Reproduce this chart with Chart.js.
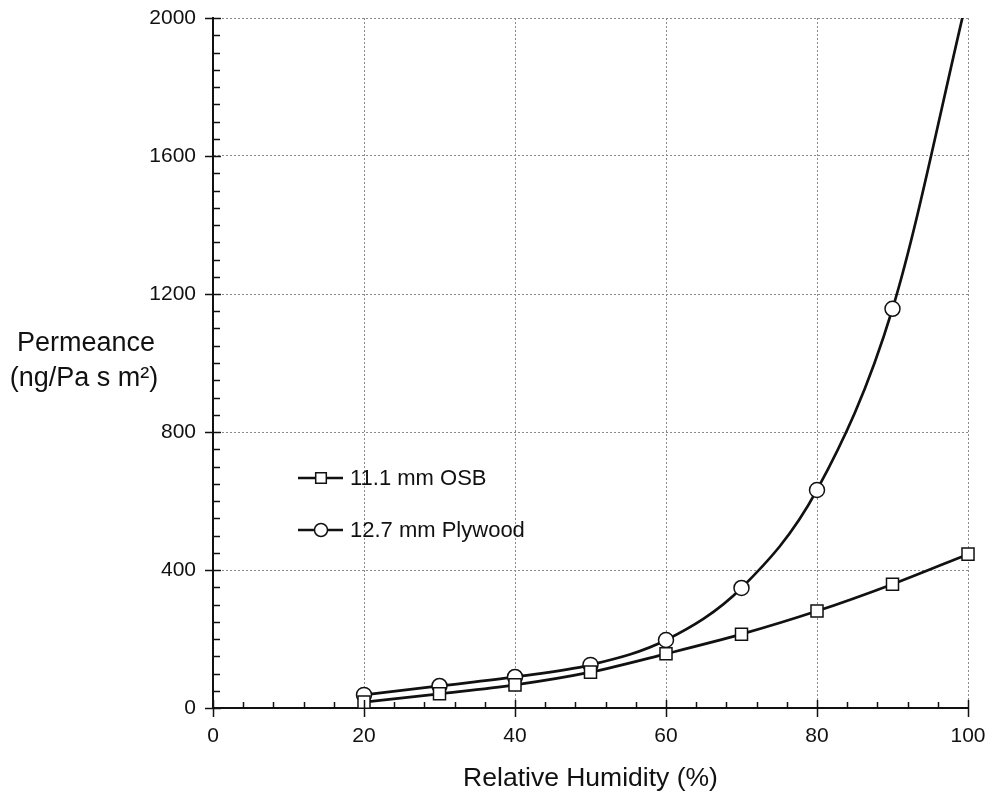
<!DOCTYPE html>
<html>
<head>
<meta charset="utf-8">
<title>Permeance vs Relative Humidity</title>
<script src="https://cdn.jsdelivr.net/npm/chart.js"></script>
<style>
    html, body { margin: 0; padding: 0; background: #fff; }
    #wrap { width: 989px; height: 798px; position: relative; }
</style>
</head>
<body>
<div id="wrap"><canvas id="permChart"></canvas></div>
<script>
const humidity = [20, 30, 40, 50, 60, 70, 80, 90, 100];
const osb = [17, 41, 67, 104, 157, 214, 281, 359, 446];
// last plywood value is where the curve leaves the top of the plot (no marker there)
const plywood = [38, 64, 90, 125, 197, 348, 632, 1157, 2070];
const plywoodMarks = [1, 1, 1, 1, 1, 1, 1, 1, 0];

const seriesLabels = ['11.1 mm OSB', '12.7 mm Plywood'];
const yTitleLines = ['Permeance', '(ng/Pa s m\u00B2)'];
const xTitle = 'Relative Humidity (%)';

const FONT = '"Liberation Sans", Arial, Helvetica, sans-serif';
const INK = '#111';

function toPoints(xs, ys)
{
    let pts = [];
    for(let i = 0; i < xs.length; i++)
        pts.push({x: xs[i], y: ys[i]});
    return pts;
}

function drawMarker(ctx, style, x, y, r)
{
    ctx.beginPath();
    if(style == 'rect')
    {
        let s = Math.SQRT1_2 * r;
        ctx.rect(x - s, y - s, 2 * s, 2 * s);
    }
    else
        ctx.arc(x, y, r, 0, 2 * Math.PI);
    ctx.fillStyle = '#fff';
    ctx.fill();
    ctx.lineWidth = 1.5;
    ctx.strokeStyle = INK;
    ctx.stroke();
}

// minor / major tick marks like the original (minor inside, major crossing the axis)
const tickMarks = {
    id: 'tickMarks',
    afterDatasetsDraw(chart)
    {
        const ctx = chart.ctx;
        const xs = chart.scales.x;
        const ys = chart.scales.y;
        const area = chart.chartArea;
        ctx.save();
        ctx.strokeStyle = INK;
        ctx.lineWidth = 1.5;
        for(let v = 0; v <= 100; v += 4)
        {
            let px = Math.round(xs.getPixelForValue(v)) + 0.5;
            let major = (v % 20 == 0);
            ctx.beginPath();
            ctx.moveTo(px, area.bottom + (major ? 9 : 0));
            ctx.lineTo(px, area.bottom - (major ? 8 : 6));
            ctx.stroke();
        }
        for(let v = 0; v <= 2000; v += 50)
        {
            let py = Math.round(ys.getPixelForValue(v)) + 0.5;
            let major = (v % 400 == 0);
            ctx.beginPath();
            ctx.moveTo(area.left - (major ? 8 : 0), py);
            ctx.lineTo(area.left + (major ? 8 : 7), py);
            ctx.stroke();
        }
        ctx.restore();
    }
};

const sideTexts = {
    id: 'sideTexts',
    afterDraw(chart)
    {
        const ctx = chart.ctx;
        ctx.save();
        ctx.fillStyle = INK;
        ctx.textAlign = 'center';
        ctx.textBaseline = 'middle';
        ctx.font = '27px ' + FONT;
        ctx.fillText(yTitleLines[0], 86, 344);
        ctx.fillText(yTitleLines[1], 84, 379);

        // legend inside the plot
        ctx.textAlign = 'left';
        ctx.font = '22px ' + FONT;
        const rows = [478, 530];
        chart.data.datasets.forEach(function(ds, i) {
            let y = rows[i];
            ctx.beginPath();
            ctx.moveTo(298, y);
            ctx.lineTo(343, y);
            ctx.lineWidth = 2.5;
            ctx.strokeStyle = INK;
            ctx.stroke();
            drawMarker(ctx, ds.pointStyle, 321, y, ds.pointStyle == 'rect' ? 7.5 : 6.5);
            ctx.fillStyle = INK;
            ctx.fillText(ds.label, 350, y + 1);
        });
        ctx.restore();
    }
};

const chart = new Chart(document.getElementById('permChart'), {
    type: 'line',
    data: {
        datasets: [{
            label: seriesLabels[0],
            data: toPoints(humidity, osb),
            borderColor: INK,
            borderWidth: 2.7,
            pointStyle: 'rect',
            pointRadius: 8.5,
            pointBorderWidth: 1.5,
            pointBackgroundColor: '#fff',
            pointBorderColor: INK,
            cubicInterpolationMode: 'monotone',
            clip: false
        }, {
            label: seriesLabels[1],
            data: toPoints(humidity, plywood),
            borderColor: INK,
            borderWidth: 2.7,
            pointStyle: 'circle',
            pointRadius: plywoodMarks.map(m => m ? 7.5 : 0),
            pointBorderWidth: 1.5,
            pointBackgroundColor: '#fff',
            pointBorderColor: INK,
            cubicInterpolationMode: 'monotone',
            clip: {left: 10, top: 0, right: 10, bottom: 10}
        }]
    },
    options: {
        responsive: true,
        maintainAspectRatio: false,
        animation: false,
        layout: {
            padding: {top: 18, right: 21, left: 0, bottom: 0}
        },
        plugins: {
            legend: { display: false },
            tooltip: { enabled: false }
        },
        scales: {
            x: {
                type: 'linear',
                min: 0,
                max: 100,
                afterFit: function(scale) {
                    scale.height = 90;
                    scale.paddingLeft = 0;
                    scale.paddingRight = 0;
                },
                grid: {
                    color: '#8a8a8a',
                    lineWidth: 1,
                    drawTicks: false
                },
                border: {
                    color: INK,
                    width: 2,
                    dash: [2, 2]
                },
                ticks: {
                    stepSize: 20,
                    padding: 16,
                    color: INK,
                    font: { family: FONT, size: 21 },
                    callback: v => String(v)
                },
                title: {
                    display: true,
                    text: xTitle,
                    color: INK,
                    font: { family: FONT, size: 26.5 },
                    padding: { top: 0, bottom: 3 }
                }
            },
            y: {
                type: 'linear',
                min: 0,
                max: 2000,
                afterFit: function(scale) {
                    scale.width = 213;
                    scale.paddingTop = 0;
                    scale.paddingBottom = 0;
                },
                grid: {
                    color: '#8a8a8a',
                    lineWidth: 1,
                    drawTicks: false
                },
                border: {
                    color: INK,
                    width: 2,
                    dash: [2, 2]
                },
                ticks: {
                    stepSize: 400,
                    padding: 17,
                    color: INK,
                    font: { family: FONT, size: 21 },
                    callback: v => String(v)
                }
            }
        }
    },
    plugins: [tickMarks, sideTexts]
});
</script>
</body>
</html>
